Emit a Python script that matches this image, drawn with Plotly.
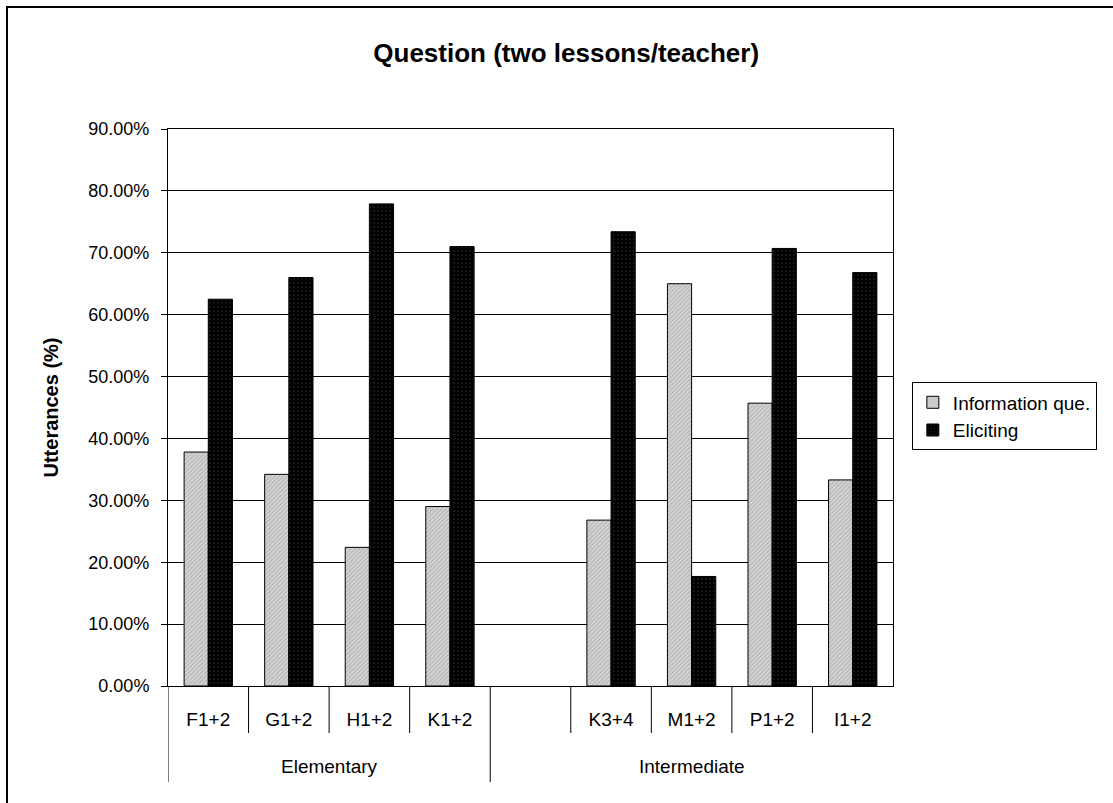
import plotly.graph_objects as go

# Lesson pairs grouped by proficiency level (one blank slot separates the groups)
lessons = ["F1+2", "G1+2", "H1+2", "K1+2", " ", "K3+4", "M1+2", "P1+2", "I1+2"]
level_names = ["Elementary", "Intermediate"]
level_spans = [(0, 3), (4, 8)]  # first and last lesson slot of each level

# Share of question utterances (percent)
information_que = [37.8, 34.2, 22.4, 29.0, None, 26.8, 65.0, 45.7, 33.3]
eliciting = [62.5, 66.0, 77.9, 71.0, None, 73.4, 17.7, 70.7, 66.8]

y_ticks = [0, 10, 20, 30, 40, 50, 60, 70, 80, 90]
y_ticktext = [f"{v:.2f}%" for v in y_ticks]

FONT = "Liberation Sans, Arial, sans-serif"
PLOT_H = 557  # plot-area height in px, used to express label-row depths in paper units

fig = go.Figure()
fig.add_trace(go.Bar(
    name="Information que.",
    x=lessons,
    y=information_que,
    marker=dict(
        color="#c8c8c8",
        line=dict(color="#000000", width=1),
        pattern=dict(shape="/", fgcolor="#8c8c8c", bgcolor="#d4d4d4", size=3, solidity=0.35),
    ),
))
fig.add_trace(go.Bar(
    name="Eliciting",
    x=lessons,
    y=eliciting,
    marker=dict(
        color="#000000",
        line=dict(color="#000000", width=1),
        pattern=dict(shape=".", fgcolor="#3a3a3a", bgcolor="#000000", size=4, solidity=0.2),
    ),
))

# Category boundary ticks (short) and level dividers (long) below the axis
shapes = []
group_starts = {s for s, _ in level_spans}
for i in range(len(lessons)):
    depth = 96 if i in group_starts else 47
    shapes.append(dict(
        type="line", xref="x", yref="paper",
        x0=i - 0.5, x1=i - 0.5, y0=0, y1=-depth / PLOT_H,
        line=dict(color="#000000", width=1),
    ))

# outer chart frame
shapes.append(dict(
    type="rect", xref="paper", yref="paper",
    x0=(7 - 168) / 725, x1=1.5,
    y0=-0.5, y1=(686 - 7) / PLOT_H,
    line=dict(color="#000000", width=2),
    fillcolor="rgba(0,0,0,0)",
    layer="below",
))

# Level names centred under their lesson slots
annotations = []
for name, (a, b) in zip(level_names, level_spans):
    annotations.append(dict(
        text=name, xref="x", yref="paper",
        x=(a + b) / 2,
        y=-80 / PLOT_H, yanchor="middle", xanchor="center",
        showarrow=False,
        font=dict(family=FONT, size=19, color="#000000"),
    ))

fig.update_layout(
    width=1113,
    height=803,
    margin=dict(l=168, r=220, t=129, b=117),
    paper_bgcolor="white",
    plot_bgcolor="white",
    barmode="group",
    bargap=0.4,
    bargroupgap=0,
    font=dict(family=FONT, size=18, color="#000000"),
    title=dict(
        text="<b>Question (two lessons/teacher)</b>",
        x=0.5087, xanchor="center",
        y=1 - 53 / 803, yanchor="middle",
        font=dict(family=FONT, size=26, color="#000000"),
    ),
    showlegend=True,
    legend=dict(
        x=1.026, xanchor="left",
        y=0.545, yanchor="top",
        bgcolor="white",
        bordercolor="#000000",
        borderwidth=1,
        font=dict(family=FONT, size=19, color="#000000"),
        itemwidth=30,
        tracegroupgap=0,
    ),
    xaxis=dict(
        type="category",
        range=[-0.5, len(lessons) - 0.5],
        showline=True,
        linecolor="#000000",
        linewidth=1,
        mirror=True,
        ticks="",
        ticklabelstandoff=16,
        showgrid=False,
        tickfont=dict(family=FONT, size=19, color="#000000"),
    ),
    yaxis=dict(
        range=[0, 90],
        tickvals=y_ticks,
        ticktext=y_ticktext,
        showline=True,
        linecolor="#000000",
        linewidth=1,
        mirror=True,
        ticks="outside",
        ticklen=6,
        tickcolor="#000000",
        ticklabelstandoff=8,
        showgrid=True,
        gridcolor="#000000",
        gridwidth=1,
        zeroline=False,
        tickfont=dict(family=FONT, size=18, color="#000000"),
        title=dict(
            text="<b>Utterances (%)</b>",
            font=dict(family=FONT, size=20, color="#000000"),
            standoff=24,
        ),
    ),
    shapes=shapes,
    annotations=annotations,
)

fig.write_html("out.html")
